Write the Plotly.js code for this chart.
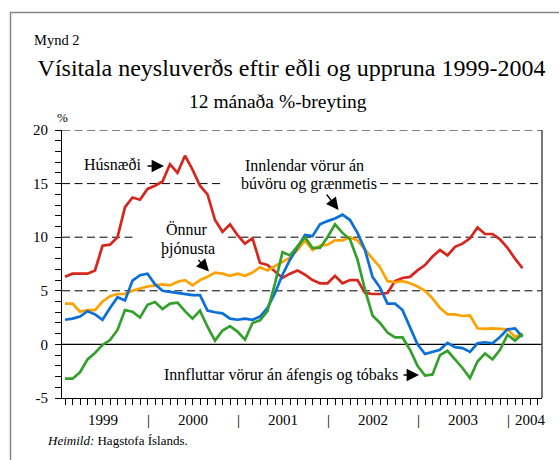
<!DOCTYPE html>
<html>
<head>
<meta charset="utf-8">
<script src="https://cdn.plot.ly/plotly-3.0.1.min.js"></script>
<style>html,body{margin:0;padding:0;background:#fff;} #chart{width:559px;height:460px;}</style>
</head>
<body>
<div id="chart"></div>
<script>
// ---- data ----
const years = ['1999', '2000', '2001', '2002', '2003', '2004'];
const monthNames = ['jan', 'feb', 'mar', 'apr', 'maí', 'jún', 'júl', 'ágú', 'sep', 'okt', 'nóv', 'des'];
const yearLabels = ['1999', '2000', '2001', '2002', '2003', '2004'];

// Húsnæði (red)
const husnaedi = [6.3, 6.6, 6.6, 6.6, 6.9, 9.2, 9.3, 10.0, 12.8, 13.7,
  13.5, 14.5, 14.8, 15.2, 16.8, 16.0, 17.6, 16.3, 14.8, 14.0,
  11.6, 10.5, 11.2, 10.2, 9.4, 9.9, 7.6, 7.4, 6.8, 6.2,
  6.6, 6.9, 6.5, 6.0, 5.7, 5.7, 6.4, 5.7, 6.0, 6.0,
  4.8, 4.7, 4.7, 4.8, 5.9, 6.2, 6.3, 6.9, 7.4, 8.2,
  8.8, 8.3, 9.1, 9.4, 9.9, 10.9, 10.3, 10.3, 9.8, 9.0,
  8.0, 7.1];
// Önnur þjónusta (orange)
const onnurThjonusta = [3.8, 3.8, 3.05, 3.2, 3.2, 4.0, 4.5, 4.7, 4.7, 5.0,
  5.2, 5.4, 5.5, 5.6, 5.5, 5.85, 6.0, 5.5, 6.0, 6.3,
  6.7, 6.6, 6.4, 6.6, 6.4, 6.7, 7.2, 6.9, 7.3, 7.7,
  8.1, 8.8, 9.7, 8.8, 9.2, 9.3, 9.7, 9.7, 10.0, 9.7,
  8.8, 8.0, 7.2, 5.9, 5.8, 5.9, 5.7, 5.4, 5.0, 4.3,
  3.4, 2.8, 2.8, 2.65, 2.7, 1.5, 1.45, 1.5, 1.45, 1.4,
  0.7, 1.0];
// Innlendar vörur án búvöru og grænmetis (blue)
const innlendar = [2.3, 2.4, 2.6, 3.1, 2.8, 2.3, 3.4, 4.4, 4.1, 5.95,
  6.45, 6.6, 5.6, 5.0, 4.9, 4.8, 4.7, 4.6, 4.6, 3.15,
  3.0, 2.9, 2.4, 2.3, 2.4, 2.3, 2.6, 3.4, 4.8, 6.5,
  7.9, 9.0, 10.2, 10.1, 11.2, 11.5, 11.75, 12.1, 11.6, 10.4,
  8.8, 6.3, 5.3, 3.8, 3.8, 3.2, 1.65, 0.0, -0.9, -0.7,
  -0.5, 0.15, -0.25, -0.35, -0.7, 0.1, 0.2, 0.1, 0.7, 1.4,
  1.5, 0.7];
// Innfluttar vörur án áfengis og tóbaks (green)
const innfluttar = [-3.2, -3.2, -2.6, -1.4, -0.8, -0.05, 0.4, 1.35, 3.2, 3.05,
  2.5, 3.7, 3.95, 3.3, 3.8, 3.9, 3.1, 2.4, 3.15, 1.65,
  0.35, 1.3, 1.7, 1.2, 0.45, 2.0, 2.25, 3.1, 5.7, 8.6,
  8.3, 9.2, 10.0, 9.0, 9.0, 10.0, 11.2, 10.4, 9.8, 7.9,
  5.1, 2.7, 2.0, 1.1, 0.65, 0.65, -0.5, -2.0, -2.9, -2.8,
  -1.0, -0.6, -1.4, -2.2, -3.15, -1.6, -0.85, -1.4, -0.5, 0.9,
  0.35, 1.0];

// month categories (Jan 1999 ...), axis shows a few extra months
const allMonths = [];
years.forEach(y => monthNames.forEach(m => allMonths.push(m + ' ' + y)));
const axisMonths = allMonths.slice(0, 64);
const months = allMonths.slice(0, husnaedi.length);

// ---- layout helpers (pixel -> paper) ----
const L = 62, R = 542, T = 130, B = 398;
const px = x => (x - L) / (R - L);
const py = y => (B - y) / (B - T);
const FONT = 'Liberation Serif';

const lineStyle = (c) => ({color: c, width: 2.7});
const traces = [
  {x: months, y: husnaedi, name: 'Húsnæði', mode: 'lines', line: lineStyle('#d7261e')},
  {x: months, y: onnurThjonusta, name: 'Önnur þjónusta', mode: 'lines', line: lineStyle('#ffa200')},
  {x: months, y: innlendar, name: 'Innlendar vörur án búvöru og grænmetis', mode: 'lines', line: lineStyle('#0a6fd6')},
  {x: months, y: innfluttar, name: 'Innfluttar vörur án áfengis og tóbaks', mode: 'lines', line: lineStyle('#33a02c')}
];

const dash = '8px,4.5px';
function hseg(yv, x0, x1, opts) {
  return Object.assign({type: 'line', xref: 'paper', yref: 'y', x0: px(x0), x1: px(x1), y0: yv, y1: yv,
    layer: 'below', line: {color: '#000', width: 1, dash: dash}}, opts || {});
}
const shapes = [
  hseg(20, L, R, {line: {color: '#555', width: 1.6, dash: dash}}),
  hseg(15, L, 220), hseg(15, 380, R),
  hseg(10, L, 137), hseg(10, 228, R),
  hseg(5, L, R),
  hseg(0, L, R, {line: {color: '#000', width: 1.2}}),
  {type: 'line', xref: 'paper', yref: 'paper', x0: 1, x1: 1, y0: 0, y1: 1, line: {color: '#555', width: 1.6}},
  // outer frame
  {type: 'rect', xref: 'paper', yref: 'paper', x0: px(10.5), x1: px(620), y0: py(520), y1: py(12.5),
    line: {color: '#888', width: 1.5}, fillcolor: 'rgba(0,0,0,0)', layer: 'below'}
];

const txt = (text, x, y, size, extra) => Object.assign({
  text: text, xref: 'paper', yref: 'paper', x: px(x), y: py(y), xanchor: 'center', yanchor: 'middle',
  showarrow: false, font: {family: FONT, size: size, color: '#000'}
}, extra || {});
const arrow = (hx, hy, ax, ay) => ({
  text: '', xref: 'paper', yref: 'paper', x: px(hx), y: py(hy), ax: ax, ay: ay,
  showarrow: true, arrowhead: 2, arrowsize: 1.9, arrowwidth: 1.3, arrowcolor: '#000', standoff: 0
});

const annotations = [
  txt('Mynd 2', 32, 40, 14.5, {xanchor: 'left'}),
  txt('12 mánaða %-breyting', 278, 102, 19.5),
  txt('%', 62, 117, 13),
  txt('Húsnæði', 112.5, 164, 16),
  arrow(164, 166, -18, 0),
  txt('Innlendar vörur án', 304, 165, 16),
  txt('búvöru og grænmetis', 308.5, 184, 16),
  arrow(338.5, 210, -13, -17),
  txt('Önnur', 186.5, 229.5, 16),
  txt('þjónusta', 188.3, 248.5, 16),
  arrow(209, 271.5, -12, -13),
  txt('Innfluttar vörur án áfengis og tóbaks', 281, 375, 16),
  arrow(419, 375, -17, 0),
  txt('<i>Heimild:</i> Hagstofa Íslands.', 44.5, 440, 13, {xanchor: 'left'})
];
// year labels & separators on the category scale
yearLabels.forEach((yl, k) => {
  const xc = k < 5 ? 12 * k + 5.1 : 62.1;
  annotations.push({text: yl, xref: 'x', yref: 'paper', x: xc, y: py(420), xanchor: 'center', yanchor: 'middle',
    showarrow: false, font: {family: FONT, size: 15, color: '#000'}});
  if (k < 5) {
    annotations.push({text: '|', xref: 'x', yref: 'paper', x: 12 * k + 11.1, y: py(420), xanchor: 'center', yanchor: 'middle',
      showarrow: false, font: {family: FONT, size: 15, color: '#000'}});
  }
});

const layout = {
  width: 559, height: 460,
  margin: {l: L, r: 559 - R, t: T, b: 460 - B, pad: 0},
  paper_bgcolor: '#fff', plot_bgcolor: '#fff',
  showlegend: false,
  title: {text: 'Vísitala neysluverðs eftir eðli og uppruna 1999-2004', x: 291.5 / 559, xanchor: 'center',
    y: 1 - 68 / 460, yanchor: 'middle', xref: 'container', yref: 'container',
    font: {family: FONT, size: 24, color: '#000'}},
  xaxis: {
    type: 'category', categoryorder: 'array', categoryarray: axisMonths,
    range: [-0.4, 63.6], showgrid: false, zeroline: false,
    showline: true, linecolor: '#000', linewidth: 1,
    ticks: 'outside', ticklen: 6, tickwidth: 1, tickcolor: '#000',
    tickmode: 'array', tickvals: axisMonths, showticklabels: false, fixedrange: true
  },
  yaxis: {
    range: [-5, 20], showgrid: false, zeroline: false,
    showline: true, linecolor: '#000', linewidth: 1,
    ticks: 'outside', ticklen: 6, tickwidth: 1, tickcolor: '#000',
    tickmode: 'array', tickvals: [-5, 0, 5, 10, 15, 20], ticktext: ['-5', '0', '5', '10', '15', '20'],
    minor: {tickmode: 'linear', tick0: 0, dtick: 1, ticks: 'outside', ticklen: 6, tickwidth: 1, tickcolor: '#000', showgrid: false},
    tickfont: {family: FONT, size: 15, color: '#000'}, ticklabelstandoff: 4, fixedrange: true
  },
  shapes: shapes,
  annotations: annotations
};

Plotly.newPlot('chart', traces, layout, {staticPlot: true, displayModeBar: false});
</script>
</body>
</html>
